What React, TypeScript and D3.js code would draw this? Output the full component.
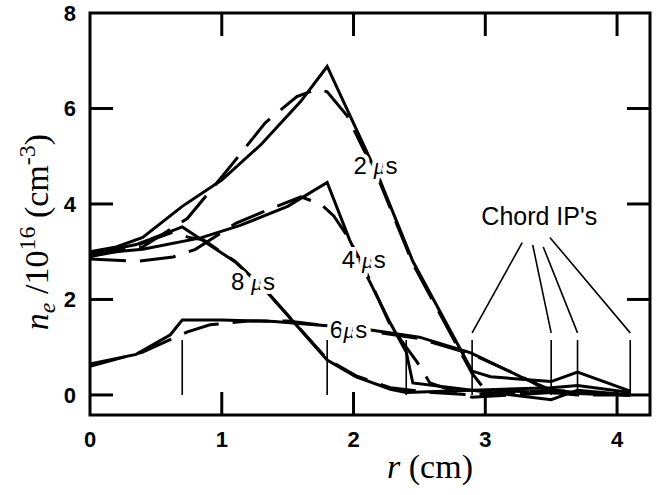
import * as d3 from "d3";
import { useEffect, useRef } from "react";

type Pt = [number, number];

// electron density profiles, r (cm) vs ne/1e16 (cm^-3)
const solid2: Pt[] = [[0, 3.0], [0.2, 3.1], [0.4, 3.3], [0.7, 3.95], [1.0, 4.5], [1.3, 5.25], [1.6, 6.15], [1.8, 6.88], [2.2, 4.5], [2.45, 2.8], [2.9, 0.5], [3.04, 0.38], [3.5, 0.28], [3.7, 0.48], [4.1, 0.08]];
const dashed2: Pt[] = [[0, 2.9], [0.4, 3.1], [0.74, 3.7], [1.04, 4.7], [1.33, 5.7], [1.57, 6.25], [1.72, 6.4], [1.8, 6.35], [1.95, 5.85], [2.2, 4.45], [2.45, 2.75], [2.9, 0.45], [3.0, 0.1], [3.5, 0.05], [3.7, 0.0], [4.1, 0.0]];
const solid4: Pt[] = [[0, 2.95], [0.4, 3.05], [0.84, 3.29], [1.14, 3.55], [1.5, 3.95], [1.8, 4.45], [1.97, 3.25], [2.1, 2.5], [2.28, 1.5], [2.4, 0.9], [2.45, 0.25], [2.9, 0.1], [3.5, -0.1], [3.7, 0.1], [4.1, 0.0]];
const dashed4: Pt[] = [[0, 2.85], [0.36, 2.8], [0.63, 2.89], [0.8, 3.05], [1.11, 3.6], [1.37, 3.9], [1.6, 4.15], [1.75, 4.0], [1.85, 3.75], [1.96, 3.3], [2.1, 2.55], [2.28, 1.45], [2.48, 0.7], [2.58, 0.25], [2.9, -0.05], [3.5, 0.05], [4.1, 0.0]];
const solid6: Pt[] = [[0, 0.65], [0.35, 0.85], [0.61, 1.26], [0.7, 1.57], [1.0, 1.57], [1.4, 1.54], [1.8, 1.45], [2.13, 1.36], [2.5, 1.21], [2.89, 0.88], [3.27, 0.38], [3.5, 0.1], [3.7, 0.05], [4.1, 0.0]];
const dashed6: Pt[] = [[0, 0.6], [0.4, 0.9], [0.6, 1.15], [0.74, 1.32], [0.91, 1.47], [1.2, 1.55], [1.5, 1.55], [1.8, 1.45], [2.13, 1.33], [2.5, 1.18], [2.9, 0.85], [3.3, 0.35], [3.5, 0.05], [4.1, 0.0]];
const solid8: Pt[] = [[0, 2.95], [0.35, 3.15], [0.7, 3.52], [1.1, 2.79], [1.33, 2.2], [1.8, 0.73], [2.02, 0.38], [2.28, 0.12], [2.4, 0.05], [2.9, 0.1], [3.5, 0.15], [3.7, 0.2], [4.1, 0.05]];
const dashed8: Pt[] = [[0, 2.9], [0.36, 3.14], [0.63, 3.41], [0.75, 3.3], [0.86, 3.25], [1.1, 2.8], [1.33, 2.2], [1.8, 0.75], [2.02, 0.4], [2.28, 0.15], [2.6, 0.05], [2.9, 0.0], [3.5, 0.1], [4.1, 0.0]];

const chordIPs = [0.7, 1.8, 2.4, 2.9, 3.5, 3.7, 4.1];
const chordTop = 1.15;
const pointedChords = [2.9, 3.5, 3.7, 4.1];
const leaderStarts: Pt[] = [[3.28, 3.19], [3.36, 3.14], [3.44, 3.1], [3.49, 3.3]];

const xTicks = [0, 1, 2, 3, 4];
const yTicks = [0, 2, 4, 6, 8];

const App = () => {
  const ref = useRef<SVGSVGElement | null>(null);

  useEffect(() => {
    if (!ref.current) return;
    const svg = d3.select(ref.current);
    svg.selectAll("*").remove();

    const left = 90, right = 650, top = 13, bottom = 415;
    const x = d3.scaleLinear().domain([0, 4.25]).range([left, right]);
    const y = d3.scaleLinear().domain([-0.42, 8]).range([bottom, top]);

    const line = d3.line<Pt>().x((d) => x(d[0])).y((d) => y(d[1]));

    const g = svg.append("g");

    // chord impact parameters
    g.selectAll("line.chord")
      .data(chordIPs)
      .join("line")
      .attr("class", "chord")
      .attr("x1", (d) => x(d)).attr("x2", (d) => x(d))
      .attr("y1", y(0)).attr("y2", y(chordTop))
      .attr("stroke", "#000").attr("stroke-width", 1.6);

    g.selectAll("line.leader")
      .data(pointedChords)
      .join("line")
      .attr("class", "leader")
      .attr("x1", (d, i) => x(leaderStarts[i][0]))
      .attr("y1", (d, i) => y(leaderStarts[i][1]))
      .attr("x2", (d) => x(d))
      .attr("y2", y(1.3))
      .attr("stroke", "#000").attr("stroke-width", 1.6);

    const solids = [solid2, solid4, solid6, solid8];
    const dashes = [dashed2, dashed4, dashed6, dashed8];

    dashes.forEach((s) => {
      g.append("path").datum(s)
        .attr("fill", "none").attr("stroke", "#000").attr("stroke-width", 3)
        .attr("stroke-dasharray", "36,14")
        .attr("d", line);
    });
    solids.forEach((s) => {
      g.append("path").datum(s)
        .attr("fill", "none").attr("stroke", "#000").attr("stroke-width", 3)
        .attr("stroke-linejoin", "miter")
        .attr("d", line);
    });

    // frame + inward ticks
    g.append("rect")
      .attr("x", left).attr("y", top)
      .attr("width", right - left).attr("height", bottom - top)
      .attr("fill", "none").attr("stroke", "#000").attr("stroke-width", 3);

    const tl = 23;
    xTicks.filter((t) => t > 0).forEach((t) => {
      g.append("line").attr("x1", x(t)).attr("x2", x(t)).attr("y1", bottom).attr("y2", bottom - tl)
        .attr("stroke", "#000").attr("stroke-width", 3);
      g.append("line").attr("x1", x(t)).attr("x2", x(t)).attr("y1", top).attr("y2", top + tl)
        .attr("stroke", "#000").attr("stroke-width", 3);
    });
    yTicks.filter((t) => t < 8).forEach((t) => {
      g.append("line").attr("x1", left).attr("x2", left + tl).attr("y1", y(t)).attr("y2", y(t))
        .attr("stroke", "#000").attr("stroke-width", 3);
      g.append("line").attr("x1", right).attr("x2", right - tl).attr("y1", y(t)).attr("y2", y(t))
        .attr("stroke", "#000").attr("stroke-width", 3);
    });

    const sans = "'Liberation Sans', Arial, Helvetica, sans-serif";
    const serif = "'Liberation Serif', 'Times New Roman', serif";

    g.selectAll("text.xt")
      .data(xTicks)
      .join("text")
      .attr("class", "xt")
      .attr("x", (d) => x(d)).attr("y", 447)
      .attr("text-anchor", "middle")
      .attr("font-family", sans).attr("font-weight", "bold").attr("font-size", 22)
      .text((d) => d);

    g.selectAll("text.yt")
      .data(yTicks)
      .join("text")
      .attr("class", "yt")
      .attr("x", 76).attr("y", (d) => y(d) + 8)
      .attr("text-anchor", "end")
      .attr("font-family", sans).attr("font-weight", "bold").attr("font-size", 22)
      .text((d) => d);

    // x title
    const xt = g.append("text")
      .attr("x", 430).attr("y", 478)
      .attr("text-anchor", "middle")
      .attr("font-family", serif).attr("font-size", 34);
    xt.append("tspan").attr("font-style", "italic").text("r");
    xt.append("tspan").text(" (cm)");

    // y title
    const yt = g.append("text")
      .attr("transform", `translate(48,232) rotate(-90)`)
      .attr("text-anchor", "middle")
      .attr("font-family", serif).attr("font-size", 34);
    yt.append("tspan").attr("font-style", "italic").text("n");
    yt.append("tspan").attr("font-style", "italic").attr("font-size", 24).attr("dy", 7).text("e");
    yt.append("tspan").attr("dy", -7).text(" /10");
    yt.append("tspan").attr("font-size", 24).attr("dy", -13).text("16");
    yt.append("tspan").attr("dy", 13).text(" (cm");
    yt.append("tspan").attr("font-size", 24).attr("dy", -13).text("-3");
    yt.append("tspan").attr("dy", 13).text(")");

    // curve annotations with white halo
    const annot = (r: number, v: number, num: string, gap: string) => {
      const t = g.append("text")
        .attr("x", x(r)).attr("y", y(v))
        .attr("font-family", sans).attr("font-size", 24)
        .attr("stroke", "#fff").attr("stroke-width", 8).attr("paint-order", "stroke")
        .attr("fill", "#000");
      t.append("tspan").text(num + gap);
      t.append("tspan").attr("font-style", "italic").attr("font-family", serif).text("\u03bc");
      t.append("tspan").text("s");
    };
    annot(2.0, 4.63, "2", " ");
    annot(1.91, 2.66, "4", " ");
    annot(1.07, 2.2, "8", " ");
    annot(1.82, 1.19, "6", "");

    g.append("text")
      .attr("x", x(2.97)).attr("y", y(3.56))
      .attr("font-family", sans).attr("font-size", 25)
      .text("Chord IP's");
  }, []);

  return <svg ref={ref} width={662} height={495} style={{ display: "block", position: "absolute", left: 0, top: 0 }} />;
};

export default App;
